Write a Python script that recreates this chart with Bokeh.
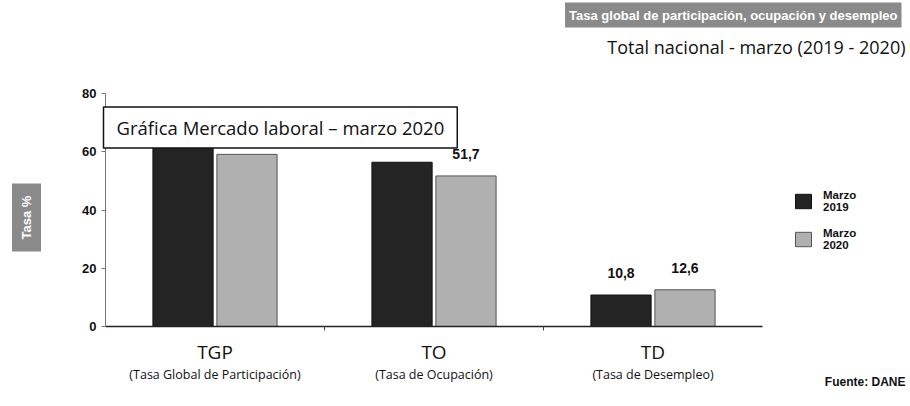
import math
from bokeh.plotting import figure
from bokeh.models import (ColumnDataSource, Range1d, Label, Legend, LegendItem,
                          LinearAxis, FixedTicker)
from bokeh.transform import dodge
from bokeh.core.properties import value
from bokeh.embed import file_html
from bokeh.resources import INLINE

# ---- data ----
categories = ["TGP", "TO", "TD"]
category_names = ["(Tasa Global de Participación)", "(Tasa de Ocupación)", "(Tasa de Desempleo)"]
marzo_2019 = [63.2, 56.4, 10.8]
marzo_2020 = [59.1, 51.7, 12.6]
series_labels = ["Marzo\n2019", "Marzo\n2020"]
y_ticks = [0, 20, 40, 60, 80]

title_text = "Tasa global de participación, ocupación y desempleo"
subtitle_text = "Total nacional - marzo (2019 - 2020)"
box_text = "Gráfica Mercado laboral – marzo 2020"
y_label_text = "Tasa %"
source_text = "Fuente: DANE"

def fmt(v):
    return f"{v:.1f}".replace(".", ",")

centers = [i + 0.5 for i in range(len(categories))]
src = ColumnDataSource(dict(
    xc=centers,
    v2019=marzo_2019,
    v2020=marzo_2020,
    t2019=[fmt(v) for v in marzo_2019],
    t2020=[fmt(v) for v in marzo_2020],
))

# frame = whole canvas; data origin at px (105, 326); 219 px per category, 2.9125 px per unit
XS, YS = 219.0, 2.9125
p = figure(width=910, height=406, output_backend="svg", toolbar_location=None,
           x_range=Range1d(-105 / XS, 805 / XS), y_range=Range1d(-80 / YS, 326 / YS),
           x_axis_type=None, y_axis_type=None,
           min_border_left=0, min_border_right=0, min_border_top=0, min_border_bottom=0)
p.outline_line_color = None
p.grid.grid_line_color = None
p.background_fill_color = "white"

OFF = 0.146
W = 0.275
c2019 = "#242424"
c2020 = "#b0b0b0"
r1 = p.vbar(x=dodge("xc", -OFF), top="v2019", width=W, source=src,
            fill_color=c2019, line_color="#111111", line_width=1)
r2 = p.vbar(x=dodge("xc", OFF), top="v2020", width=W, source=src,
            fill_color=c2020, line_color="#555555", line_width=1)

lbl_font = value("Liberation Sans")
for col, tcol, off in (("v2019", "t2019", -OFF), ("v2020", "t2020", OFF)):
    p.text(x=dodge("xc", off), y=col, text=tcol, source=src,
           text_align="center", text_baseline="bottom", y_offset=-17,
           text_font=lbl_font, text_font_style="bold", text_font_size="14px",
           text_color="#111111")

# y axis (fixed at x = 0)
ya = LinearAxis(ticker=FixedTicker(ticks=y_ticks), bounds=(y_ticks[0], y_ticks[-1]),
                fixed_location=0)
ya.minor_tick_line_color = None
ya.major_tick_in = 0
ya.major_tick_out = 4
ya.axis_line_color = "#777777"
ya.major_tick_line_color = "#777777"
ya.major_label_text_font = "Liberation Sans"
ya.major_label_text_font_style = "bold"
ya.major_label_text_font_size = "13px"
ya.major_label_text_color = "#111111"
p.add_layout(ya, "left")

# x axis (codes), fixed at y = 0
xt = FixedTicker(ticks=centers, minor_ticks=[1, 2])
xa = LinearAxis(ticker=xt, bounds=(0, len(categories)), fixed_location=0,
                major_label_overrides={c: t for c, t in zip(centers, categories)})
xa.axis_line_color = "#222222"
xa.axis_line_width = 1.5
xa.major_tick_line_color = None
xa.major_tick_out = 0
xa.minor_tick_line_color = "#444444"
xa.minor_tick_in = 0
xa.minor_tick_out = 4
xa.major_label_standoff = 8
xa.major_label_text_font = "Open Sans"
xa.major_label_text_font_size = "19px"
xa.major_label_text_color = "#111111"
p.add_layout(xa, "below")

# x axis (long names), fixed at y = 0
xa2 = LinearAxis(ticker=FixedTicker(ticks=centers), bounds=(0, len(categories)), fixed_location=0,
                 major_label_overrides={c: t for c, t in zip(centers, category_names)},
                 axis_line_color=None, major_tick_line_color=None, minor_tick_line_color=None,
                 major_tick_out=0, major_label_standoff=39,
                 major_label_text_font="Open Sans", major_label_text_font_size="12.5px",
                 major_label_text_color="#111111")
p.add_layout(xa2, "below")

# legend
legend = Legend(items=[LegendItem(label=series_labels[0], renderers=[r1]),
                       LegendItem(label=series_labels[1], renderers=[r2])],
                location=(793, 155), padding=0, margin=0, border_line_color=None,
                background_fill_alpha=0, glyph_width=20, glyph_height=18, spacing=14,
                label_standoff=10, label_text_font="Liberation Sans",
                label_text_font_style="bold", label_text_font_size="11.5px",
                label_text_color="#111111")
p.add_layout(legend, "center")

# annotations (data units: px offsets from the origin divided by the scales)
p.add_layout(Label(x=-2 / XS, y=(326 - 127) / YS, text=box_text, text_align="left",
                   text_baseline="middle",
                   text_font="Open Sans", text_font_size="18.5px", text_color="#111111",
                   background_fill_color="white", border_line_color="#111111",
                   border_line_width=1.5, padding=(13, 8)))

p.add_layout(Label(x=(901 - 105) / XS, y=(326 - 14.5) / YS, text=title_text, text_align="right",
                   text_baseline="middle",
                   text_font="Liberation Sans", text_font_style="bold", text_font_size="13px",
                   text_color="white", background_fill_color="#8a8a8a", padding=(4, 5)))
p.add_layout(Label(x=(905 - 105) / XS, y=(326 - 46) / YS, text=subtitle_text, text_align="right",
                   text_baseline="middle",
                   text_font="Open Sans", text_font_size="18px", text_color="#111111"))
p.add_layout(Label(x=(26 - 105) / XS, y=(326 - 217) / YS, text=y_label_text, angle=math.pi / 2,
                   text_align="center", text_baseline="middle",
                   text_font="Liberation Sans", text_font_style="bold", text_font_size="13px",
                   text_color="white", background_fill_color="#8a8a8a", padding=(12, 7)))
p.add_layout(Label(x=(905 - 105) / XS, y=(326 - 381) / YS, text=source_text, text_align="right",
                   text_baseline="middle",
                   text_font="Liberation Sans", text_font_style="bold", text_font_size="12px",
                   text_color="#111111"))

open("out.html", "w").write(file_html(p, INLINE))
